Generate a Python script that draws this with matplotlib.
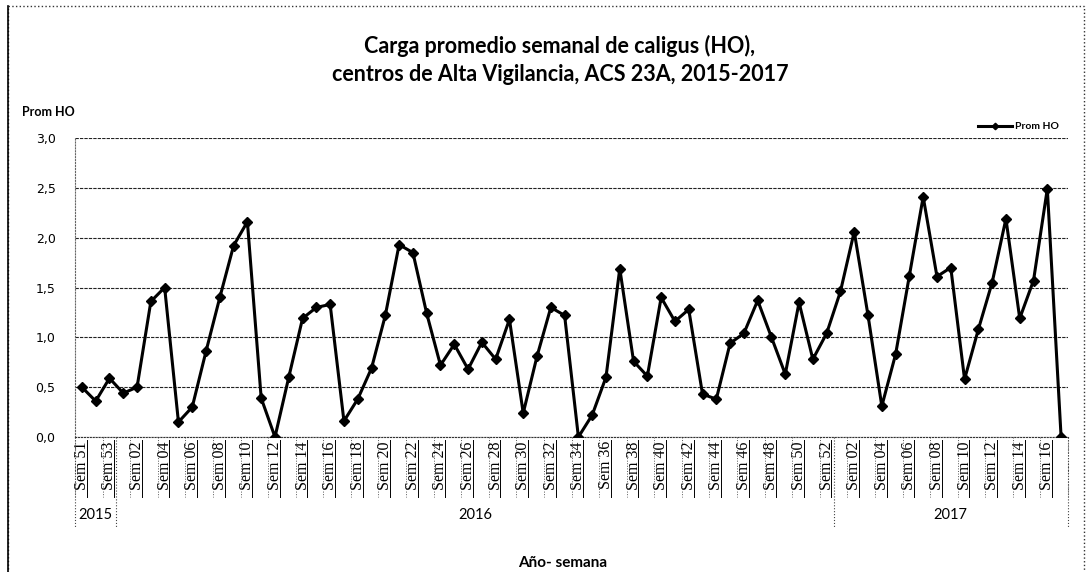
import matplotlib as mpl

mpl.use('Agg')
import matplotlib.pyplot as plt
import matplotlib.transforms as mtransforms
from matplotlib.patches import Rectangle
from matplotlib.ticker import FuncFormatter

# week labels per year
weeks_2015 = [51, 52, 53]
weeks_2016 = list(range(1, 53))
weeks_2017 = list(range(1, 18))
years = ["2015", "2016", "2017"]

prom_ho_2015 = [0.50, 0.36, 0.59]
prom_ho_2016 = [0.44, 0.50, 1.36, 1.50, 0.15, 0.30, 0.86, 1.40, 1.92, 2.16,
                0.39, 0.00, 0.60, 1.19, 1.30, 1.33, 0.16, 0.38, 0.69, 1.22,
                1.93, 1.85, 1.24, 0.72, 0.93, 0.68, 0.95, 0.78, 1.18, 0.24,
                0.81, 1.30, 1.22, 0.00, 0.22, 0.60, 1.69, 0.76, 0.61, 1.40,
                1.16, 1.28, 0.43, 0.38, 0.94, 1.04, 1.37, 1.00, 0.63, 1.35,
                0.78, 1.04]
prom_ho_2017 = [1.46, 2.06, 1.22, 0.31, 0.83, 1.62, 2.41, 1.61, 1.70, 0.58,
                1.08, 1.55, 2.19, 1.19, 1.57, 2.49, 0.00]

weeks = weeks_2015 + weeks_2016 + weeks_2017
values = prom_ho_2015 + prom_ho_2016 + prom_ho_2017
group_sizes = [len(weeks_2015), len(weeks_2016), len(weeks_2017)]
labels = ["Sem %02d" % w for w in weeks]
x = list(range(len(values)))

narrow = ["Lato", "DejaVu Sans"]

fig = plt.figure(figsize=(10.88, 5.72), dpi=100)
ax = fig.add_axes([75 / 1088, 135 / 572, 993 / 1088, 299 / 572])

ax.plot(x, values, color="black", lw=2.2, marker="D", ms=5.5, label="Prom HO", zorder=3)

ax.set_xlim(-0.5, len(values) - 0.5)
ax.set_ylim(0, 3.0)
ax.set_yticks([0, 0.5, 1.0, 1.5, 2.0, 2.5, 3.0])
ax.yaxis.set_major_formatter(FuncFormatter(lambda v, p: ("%.1f" % v).replace(".", ",")))
ax.grid(axis="y", color="#222222", lw=0.8, ls=(0, (3, 1)))
ax.set_axisbelow(True)
for s in ["top", "right"]:
    ax.spines[s].set_visible(False)
ax.spines["left"].set_linestyle(":")
ax.spines["left"].set_color("#666666")
ax.spines["bottom"].set_linestyle(":")
ax.spines["bottom"].set_color("#333333")

for t in ax.get_yticklabels():
    t.set_fontfamily("DejaVu Sans")
    t.set_fontsize(9)
ax.tick_params(axis="y", length=0, pad=14)

ticks = x[::2]
ax.set_xticks(ticks)
ax.set_xticklabels([labels[i] for i in ticks], rotation=90, fontsize=11.5,
                   family="Liberation Serif", va="top")
ax.tick_params(axis="x", length=0, pad=3)

# separators below the category axis
trans = mtransforms.blended_transform_factory(ax.transData, ax.transAxes)
for b in range(len(values) + 1):
    xb = b - 0.5
    if b % 2 == 0:
        ax.plot([xb, xb], [0, -0.2], transform=trans, clip_on=False,
                color="#555555", lw=0.7, ls=":")
    else:
        ax.plot([xb - 0.15, xb - 0.15], [-0.01, -0.2], transform=trans, clip_on=False,
                color="black", lw=0.7)

# year groups
start = 0
bounds = [-0.5]
for n in group_sizes:
    bounds.append(start + n - 0.5)
    start += n
for xb in bounds:
    ax.plot([xb, xb], [0, -0.305], transform=trans, clip_on=False,
            color="#444444", lw=0.8, ls=":")
for i, yr in enumerate(years):
    ax.text((bounds[i] + bounds[i + 1]) / 2, -0.26, yr, transform=trans,
            ha="center", va="center", fontsize=10.5, family=narrow)

fig.text(563 / 1088, 1 - 563 / 572, "Año- semana", ha="center", va="center",
         fontsize=11, family=narrow, fontweight="bold")
fig.text(560 / 1088, 1 - 60 / 572,
         "Carga promedio semanal de caligus (HO),\ncentros de Alta Vigilancia, ACS 23A, 2015-2017",
         ha="center", va="center", fontsize=15.5, family=narrow, fontweight="bold",
         linespacing=1.45)
fig.text(22 / 1088, 1 - 112 / 572, "Prom HO", ha="left", va="center",
         fontsize=9, family=narrow, fontweight="bold")

leg = ax.legend(loc="upper right", bbox_to_anchor=(1.0, 1.085), frameon=False,
                prop={"family": narrow, "size": 7.5, "weight": "bold"},
                handlelength=3.2, handletextpad=0.3, markerscale=0.6)

# outer frame
fig.patches.append(Rectangle((8 / 1088, -0.05), 1076 / 1088, 1.05 - 6 / 572,
                             transform=fig.transFigure, fill=False,
                             ls=":", lw=1.0, ec="#333333"))
fig.lines.append(plt.Line2D([8 / 1088, 8 / 1088], [0, 1 - 6 / 572],
                            transform=fig.transFigure, color="black", lw=1.2))

fig.savefig("out.png", dpi=100)
